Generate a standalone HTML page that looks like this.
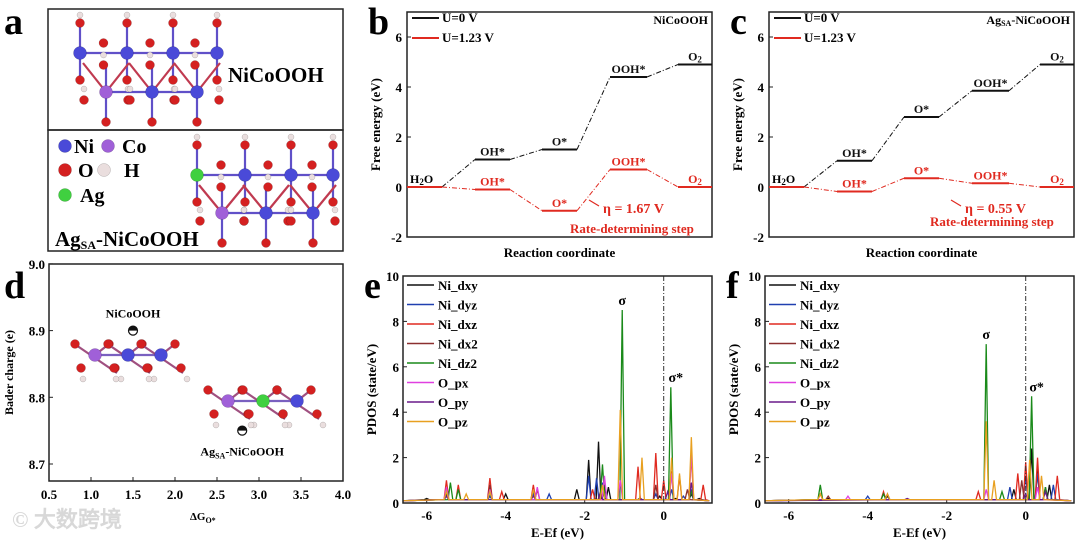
<!DOCTYPE html>
<html><head><meta charset="utf-8"><style>
html,body{margin:0;padding:0;background:#fff;width:1080px;height:546px;overflow:hidden}
svg text{font-family:"Liberation Serif",serif;font-weight:bold}
</style></head><body>
<svg id="s" width="1080" height="546" viewBox="0 0 1080 546" xmlns="http://www.w3.org/2000/svg"></svg>
<script>
// ---- data: free energy diagrams ----
const steps = ["H2O","OH*","O*","OOH*","O2"];
const bBlack = [0, 1.1, 1.5, 4.4, 4.9];
const bRed = [0, -0.1, -0.95, 0.7, 0];
const cBlack = [0, 1.05, 2.8, 3.85, 4.9];
const cRed = [0, -0.18, 0.35, 0.15, 0];
const feTicks = [-2, 0, 2, 4, 6];
// ---- data: bader charge ----
const dX = [1.5, 2.8];
const dY = [8.9, 8.75];
const dNames = ["NiCoOOH", "AgSA-NiCoOOH"];
const dXTicks = [0.5,1.0,1.5,2.0,2.5,3.0,3.5,4.0];
const dYTicks = [8.7,8.8,8.9,9.0];
// ---- data: PDOS peaks (energy, height) ----
const orbitals = ["Ni_dxy","Ni_dyz","Ni_dxz","Ni_dx2","Ni_dz2","O_px","O_py","O_pz"];
const eE = [
 [-6,-5.5,-4.4,-4,-3.3,-2.2,-1.9,-1.65,-1.5,-1.4,-0.6,-0.1,0.3,0.7,0.9],
 [-5.5,-4.4,-3.3,-2.9,-1.9,-1.7,-1.55,-0.2,0.2,0.5,0.7],
 [-5.5,-5.2,-4.4,-4.1,-3.3,-1.8,-0.65,-0.2,0,0.2,0.4,0.7,1.0],
 [-5.5,-4.4,-3.2,-1.6,-0.2,0.6],
 [-5.4,-5.2,-4.4,-1.55,-1.05,0.18,0.7],
 [-5.5,-4.4,-3.2,-1.5,-1.1,0.2,0.7],
 [-5.5,-3.3,-1.6,0.1,0.7],
 [-5.5,-5.0,-4.4,-3.3,-1.55,-1.1,-0.55,0.2,0.4,0.7]];
const eH = [
 [0.2,0.4,0.3,0.4,0.5,0.6,1.9,2.7,0.8,0.7,0.2,0.3,0.2,0.4,0.2],
 [0.3,0.3,0.4,0.4,1.2,1.1,0.9,0.4,0.6,0.3,0.6],
 [1.0,0.8,1.1,0.5,0.8,0.6,1.6,2.2,1.0,1.4,1.2,2.1,0.8],
 [0.6,0.8,0.6,0.5,0.8,0.6],
 [0.9,0.6,0.5,1.7,8.5,5.1,0.5],
 [0.7,0.6,0.7,1.2,1.0,1.3,2.2],
 [0.3,0.3,0.4,0.5,0.9],
 [0.5,0.4,0.5,0.6,0.8,4.1,2.0,2.0,1.3,2.9]];
const fE = [
 [-5,-3.5,-0.3,0.15,0.3,0.6],
 [-4,-0.4,0,0.3,0.7],
 [-5.2,-3.6,-1.2,-0.2,0,0.3,0.8],
 [-5,-3.5,-0.1,0.5],
 [-5.2,-3.6,-1.0,-0.6,0.15,0.5],
 [-4.5,-1.0,0.3],
 [-3,0,0.5],
 [-5.2,-3.5,-1.0,-0.8,0.1,0.4]];
const fH = [
 [0.2,0.3,0.6,2.4,1.5,0.8],
 [0.3,0.7,1.2,1.3,0.8],
 [0.4,0.5,0.5,1.3,1.8,2.0,1.2],
 [0.3,0.4,1.0,0.7],
 [0.8,0.4,7.0,0.5,4.7,0.7],
 [0.3,0.6,0.7],
 [0.2,0.4,0.5],
 [0.4,0.4,3.6,1.0,1.9,1.2]];
const pdosXTicks = [-6,-4,-2,0];
const pdosYTicks = [0,2,4,6,8,10];
const colors = ["#111","#2040b0","#e02a20","#8b3030","#1a8a1a","#e040e0","#6a1a8a","#e8a020"];

const S = document.getElementById('s');
const NS = "http://www.w3.org/2000/svg";
function el(tag, at, txt){const e=document.createElementNS(NS,tag);for(const k in at)e.setAttribute(k,at[k]);if(txt!==undefined)e.textContent=txt;S.appendChild(e);return e;}

[["a",4,34],["b",368,34],["c",730,34],["d",4,298],["e",364,298],["f",726,298]].forEach(p=>{
 const t=el('text',{x:p[1],y:p[2],'font-size':38},p[0]);
 
 
});

// ---- panel a ----
function atom(x,y,r,c,name){const a=el('circle',{cx:x,cy:y,r:r,fill:c,stroke:'#00000040','stroke-width':0.5});
 
 return a;}
const NI='#4a4ad8', CO='#a060d8', O='#d42020', H='#eadede', AG='#40d040';
const boxA=el('rect',{x:48,y:9,width:295,height:121,fill:'none',stroke:'#222','stroke-width':1.5});


const boxB=el('rect',{x:48,y:130,width:295,height:121,fill:'none',stroke:'#222','stroke-width':1.5});


function bond(x1,y1,x2,y2,c){el('line',{x1:x1,y1:y1,x2:x2,y2:y2,stroke:c||'#6050c8','stroke-width':2.2});}
function slab(topXs,topY,botXs,botY,topCol,botCol){
 topXs.forEach((x,i)=>{bond(x,topY-30,x,topY+27);
  if(i<topXs.length-1) bond(x,topY,topXs[i+1],topY);});
 botXs.forEach((x,i)=>{bond(x,botY-27,x,botY+30);
  if(i<botXs.length-1) bond(x,botY,botXs[i+1],botY);
  bond(x,botY,x-23,topY+10,'#c03a50');bond(x,botY,x+23,topY+10,'#c03a50');});
 topXs.forEach((x,i)=>{
  atom(x,topY-38,3,H,'hydrogen-atom'); atom(x,topY-30,4.5,O,'oxygen-atom');
  atom(x,topY+27,4.5,O,'oxygen-atom');
  if(i<topXs.length-1){const m=(x+topXs[i+1])/2;atom(m,topY-10,4.5,O,'oxygen-atom');atom(m,topY+2,3,H,'hydrogen-atom');atom(m,topY+12,4.5,O,'oxygen-atom');}
 });
 botXs.forEach((x)=>{
  atom(x-22,botY-3,3,H,'hydrogen-atom');atom(x-22,botY+8,4.5,O,'oxygen-atom');atom(x+22,botY+8,4.5,O,'oxygen-atom');atom(x+22,botY-3,3,H,'hydrogen-atom');
  atom(x,botY+30,4.5,O,'oxygen-atom');
 });
 topXs.forEach((x,i)=>atom(x,topY,6.5,topCol[i],'metal-atom'));
 botXs.forEach((x,i)=>atom(x,botY,6.5,botCol[i],'metal-atom'));
}
slab([80,127,173,217],53,[106,152,197],92,[NI,NI,NI,NI],[CO,NI,NI]);
slab([197,245,291,333],175,[222,266,313],213,[AG,NI,NI,NI],[CO,NI,NI]);
el('text',{x:228,y:82,'font-size':21},'NiCoOOH');
[[65,146,NI,'Ni',74],[108,146,CO,'Co',122],[65,170,O,'O',78],[104,170,H,'H',124],[65,195,AG,'Ag',80]].forEach(l=>{
 atom(l[0],l[1],6.5,l[2],'legend-atom-'+l[3].toLowerCase());
 const t=el('text',{x:l[4],y:l[1]+7,'font-size':20},l[3]);
 
 
});
const agl=el('text',{x:55,y:246,'font-size':21});

agl.innerHTML='Ag<tspan font-size="12" dy="3">SA</tspan><tspan dy="-3">-NiCoOOH</tspan>';

// ---- free energy panels ----
function fePanel(ox, black, red, name, eta, etaX, rdsX, rdsY){
 const L=ox, R=ox+305, T=12, B=237;
 const y=v=>187 - v*25;
 const xs=[[L,L+35],[L+68,L+103],[L+135,L+170],[L+203,L+240],[L+271,R]];
 const fr=el('rect',{x:L,y:T,width:R-L,height:B-T,fill:'none',stroke:'#222','stroke-width':1.5});
 
 
 feTicks.forEach(t=>{el('line',{x1:L,y1:y(t),x2:L+4,y2:y(t),stroke:'#222'});
  const tl=el('text',{x:L-5,y:y(t)+5,'font-size':13,'text-anchor':'end'},t);
  
  });
 const yt=el('text',{transform:`translate(${L-27},${(T+B)/2}) rotate(-90)`,'font-size':13,'text-anchor':'middle'},'Free energy (eV)');
 
 const xt=el('text',{x:(L+R)/2,y:257,'font-size':13,'text-anchor':'middle'},'Reaction coordinate');
 
 [[black,'#111'],[red,'#e02a20']].forEach(([vals,c],si)=>{
  vals.forEach((v,i)=>{
   const ln=el('line',{x1:xs[i][0],y1:y(v),x2:xs[i][1],y2:y(v),stroke:c,'stroke-width':2});
   
   
   if(i<vals.length-1){const cn=el('line',{x1:xs[i][1],y1:y(v),x2:xs[i+1][0],y2:y(vals[i+1]),stroke:c,'stroke-width':1,'stroke-dasharray':'5,2,1,2'});
    
    }
   if(i>0){const lab=el('text',{x:(xs[i][0]+xs[i][1])/2,y:y(v)-4,'font-size':12,fill:c,'text-anchor':'middle'});
    lab.innerHTML = steps[i]==='O2'?'O<tspan font-size="9" dy="2">2</tspan>':steps[i];
    
    }
  });
 });
 el('text',{x:L+3,y:y(0)-4,'font-size':12}).innerHTML='H<tspan font-size="9" dy="2">2</tspan><tspan dy="-2">O</tspan>';
 [['U=0 V','#111',18],['U=1.23 V','#e02a20',38]].forEach(l=>{
  const lg=el('line',{x1:L+5,y1:l[2],x2:L+32,y2:l[2],stroke:l[1],'stroke-width':2});
  
  
  el('text',{x:L+35,y:l[2]+4,'font-size':13},l[0]);
 });
 const nm=el('text',{x:R-4,y:24,'font-size':12,'text-anchor':'end'});nm.innerHTML=name;
 
 el('text',{x:etaX,y:213,'font-size':14,fill:'#e02a20'},'η = '+eta);
 el('text',{x:rdsX,y:rdsY,'font-size':13,fill:'#e02a20'},'Rate-determining step');
 el('line',{x1:etaX-14,y1:200,x2:etaX-4,y2:206,stroke:'#e02a20','stroke-width':1.2});
}
fePanel(407,bBlack,bRed,'NiCoOOH','1.67 V',603,570,233);
fePanel(769,cBlack,cRed,'Ag<tspan font-size="8" dy="2">SA</tspan><tspan dy="-2">-NiCoOOH</tspan>','0.55 V',965,930,226);

// ---- panel d ----
(function(){
 const L=49,R=343,T=264,B=481;
 const x=v=>L+(v-0.5)/3.5*(R-L), y=v=>464-(v-8.7)*667;
 const fr=el('rect',{x:L,y:T,width:R-L,height:B-T,fill:'none',stroke:'#222','stroke-width':1.5});
 
 dXTicks.forEach(t=>{el('line',{x1:x(t),y1:B,x2:x(t),y2:B-4,stroke:'#222'});
  el('text',{x:x(t),y:499,'font-size':13,'text-anchor':'middle'},t.toFixed(1));});
 dYTicks.forEach(t=>{el('line',{x1:L,y1:y(t),x2:L+4,y2:y(t),stroke:'#222'});
  el('text',{x:L-4,y:y(t)+5,'font-size':13,'text-anchor':'end'},t.toFixed(1));});
 el('text',{transform:`translate(13,${(T+B)/2}) rotate(-90)`,'font-size':12,'text-anchor':'middle'},'Bader charge (e)');
 el('text',{x:190,y:520,'font-size':11,'text-anchor':'start'}).innerHTML='ΔG<tspan font-size="8" dy="3">O*</tspan>';
 function chain(xs,cy,cols){xs.forEach((cx,i)=>{
  bond(cx-22,cy-12,cx+22,cy+18,'#a05080');
  bond(cx,cy,cx+14,cy-11,'#a05080');
  if(i<xs.length-1) bond(cx,cy,xs[i+1],cy,'#7a60c0');
  atom(cx-20,cy-11,4.5,O,'oxygen-atom');atom(cx-14,cy+13,4.5,O,'oxygen-atom');atom(cx-12,cy+24,3,H,'hydrogen-atom');
  atom(cx+14,cy-11,4.5,O,'oxygen-atom');atom(cx+20,cy+13,4.5,O,'oxygen-atom');atom(cx+26,cy+24,3,H,'hydrogen-atom');
  atom(cx,cy,6.5,cols[i],'metal-atom');});}
 chain([95,128,161],355,[CO,NI,NI]);
 chain([228,263,297],401,[CO,AG,NI]);
 dX.forEach((v,i)=>{
  const g=el('circle',{cx:x(v),cy:y(dY[i]),r:4.5,fill:'#fff',stroke:'#111','stroke-width':1.2});
  
  
  el('path',{d:`M${x(v)-4.5},${y(dY[i])} a4.5,4.5 0 0 1 9,0 z`,fill:'#111'});
 });
 el('text',{x:x(dX[0]),y:y(dY[0])-13,'font-size':12,'text-anchor':'middle'},dNames[0]);
 el('text',{x:x(dX[1]),y:y(dY[1])+25,'font-size':12,'text-anchor':'middle'}).innerHTML='Ag<tspan font-size="8" dy="3">SA</tspan><tspan dy="-3">-NiCoOOH</tspan>';
 const wm=el('text',{x:12,y:527,'font-size':22,fill:'#d8d8d8','font-family':'"Liberation Sans","Noto Sans CJK SC",sans-serif'},'©  大数跨境');
 
 
})();

// ---- PDOS panels ----
function pdos(L,E,Hs,sig,sigStar){
 const R=L+309,T=276,B=503;
 const x=v=>L+(v+6.6)*39.5, y=v=>B-v*22.7;
 pdosXTicks.forEach(t=>{el('line',{x1:x(t),y1:B,x2:x(t),y2:B-4,stroke:'#222'});
  el('text',{x:x(t),y:520,'font-size':13,'text-anchor':'middle'},t);});
 pdosYTicks.forEach(t=>{el('line',{x1:L,y1:y(t),x2:L+4,y2:y(t),stroke:'#222'});
  el('text',{x:L-4,y:y(t)+5,'font-size':13,'text-anchor':'end'},t);});
 el('text',{transform:`translate(${L-27},${(T+B)/2}) rotate(-90)`,'font-size':13,'text-anchor':'middle'},'PDOS (state/eV)');
 el('text',{x:(L+R)/2,y:537,'font-size':13,'text-anchor':'middle'},'E-Ef (eV)');
 orbitals.forEach((o,k)=>{
  let pts=[[-6.6,0.1]];
  const idx=E[k].map((e,i)=>i).sort((a,b)=>E[k][a]-E[k][b]);
  idx.forEach(i=>{const e=E[k][i],h=Hs[k][i];pts.push([e-0.06,0.15],[e,h],[e+0.06,0.15]);});
  pts.push([1.15,0.1]);
  const p=el('polyline',{points:pts.map(q=>x(q[0])+','+y(q[1])).join(' '),fill:'none',stroke:colors[k],'stroke-width':1.3});
  
  
  const ly=285+k*19.5;
  el('line',{x1:L+4,y1:ly,x2:L+31,y2:ly,stroke:colors[k],'stroke-width':1.5});
  el('text',{x:L+35,y:ly+5,'font-size':13},o);
 });
 el('line',{x1:x(0),y1:T,x2:x(0),y2:B,stroke:'#333','stroke-dasharray':'5,2,1,2'});
 el('text',{x:x(sig[0]),y:y(sig[1])-5,'font-size':14,'text-anchor':'middle'},'σ');
 el('text',{x:x(sigStar[0])+5,y:y(sigStar[1])-5,'font-size':14,'text-anchor':'middle'},'σ*');
 el('rect',{x:L,y:T,width:R-L,height:B-T,fill:'none',stroke:'#222','stroke-width':1.5});
}
pdos(403,eE,eH,[-1.05,8.5],[0.18,5.1]);
pdos(765,fE,fH,[-1.0,7.0],[0.15,4.7]);
</script>
</body></html>
